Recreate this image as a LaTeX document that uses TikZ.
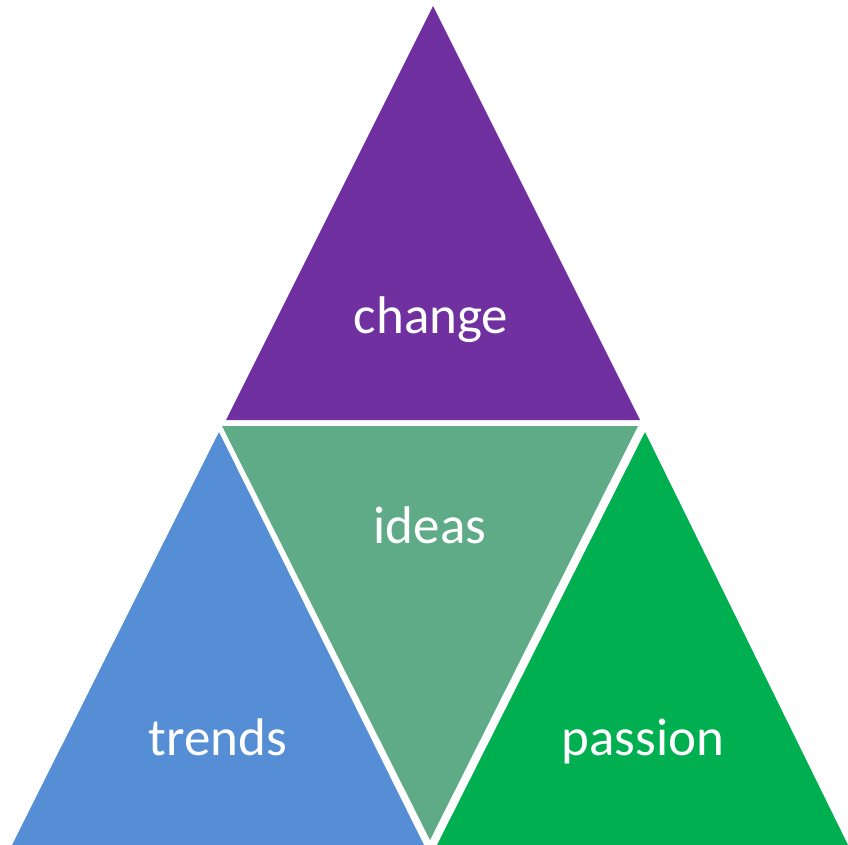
\documentclass[tikz,border=0pt]{standalone}
\usepackage{fontspec}
\setmainfont{Carlito}
\usepackage{tikz}

\definecolor{changecol}{HTML}{7030A0}
\definecolor{ideascol}{HTML}{5FAB88}
\definecolor{trendscol}{HTML}{558ED5}
\definecolor{passioncol}{HTML}{00B050}

\begin{document}
\begin{tikzpicture}[x=1pt,y=-1pt,
  word/.style={text=white,font=\fontsize{53}{53}\selectfont,anchor=base,inner sep=0pt}]

  \useasboundingbox (0,0) rectangle (848,845);

  % the four triangles
  \fill[changecol] (433,6) -- (640,420) -- (226,420) -- cycle;
  \fill[ideascol] (222,426) -- (638,426) -- (430,840) -- cycle;
  \fill[trendscol] (219,432) -- (424,845) -- (12,845) -- cycle;
  \fill[passioncol] (645,432) -- (848,845) -- (437,845) -- cycle;

  \node[word] (change) at (431,333) {change};
  \node[word] (ideas) at (430,543) {ideas};
  \node[word] (trends) at (218,755) {trends};
  \node[word] (passion) at (643,755) {passion};
\end{tikzpicture}
\end{document}
